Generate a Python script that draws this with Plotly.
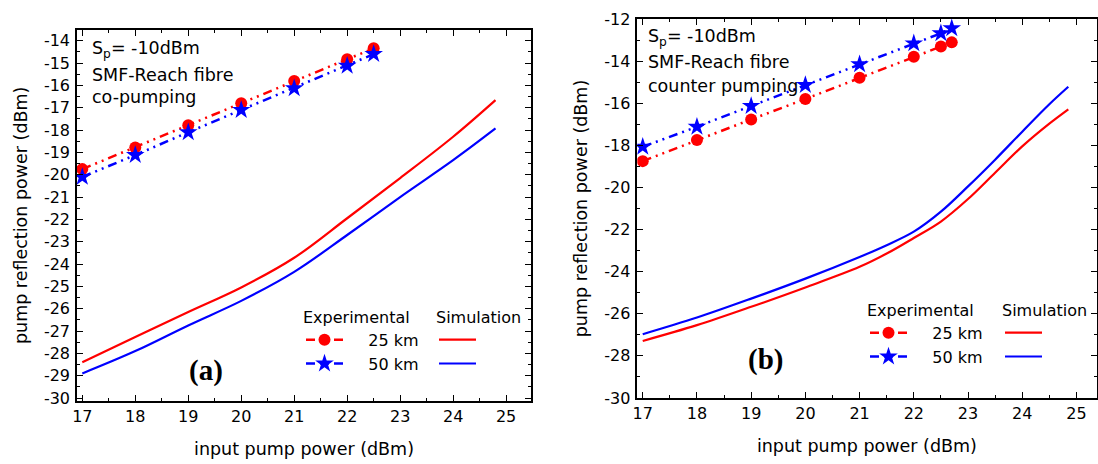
import plotly.graph_objects as go

# ---------------- data ----------------
# panel (a): co-pumping
x_exp_a = [17, 18, 19, 20, 21, 22, 22.5]
exp25_a = [-19.75, -18.78, -17.78, -16.8, -15.8, -14.83, -14.34]
exp50_a = [-20.1, -19.12, -18.1, -17.1, -16.13, -15.12, -14.6]

x_sim_a = [17, 18, 19, 20, 21, 22, 23, 24, 24.8]
sim25_a = [-28.4, -27.27, -26.15, -25.05, -23.72, -21.95, -20.15, -18.3, -16.66]
sim50_a = [-28.9, -27.9, -26.75, -25.65, -24.35, -22.7, -21.0, -19.35, -17.93]

# panel (b): counter pumping
x_exp_b = [17, 18, 19, 20, 21, 22, 22.5, 22.7]
exp25_b = [-18.75, -17.75, -16.77, -15.8, -14.79, -13.79, -13.31, -13.11]
exp50_b = [-18.07, -17.12, -16.13, -15.14, -14.15, -13.16, -12.68, -12.44]

x_sim_b = [17, 18, 19, 20, 21, 21.5, 22, 22.5, 23, 23.5, 24, 24.5, 24.85]
sim25_b = [-27.29, -26.54, -25.67, -24.75, -23.77, -23.14, -22.4, -21.62, -20.55, -19.3,
           -18.05, -16.97, -16.29]
sim50_b = [-26.97, -26.18, -25.28, -24.33, -23.3, -22.74, -22.1, -21.15, -19.95, -18.68,
           -17.35, -16.05, -15.22]

# tick labels
x_ticks = [17, 18, 19, 20, 21, 22, 23, 24, 25]
y_ticks_a = list(range(-30, -13))
y_ticks_b = list(range(-30, -11, 2))

labels_exp = ["25 km", "50 km"]
panel_labels = ["(a)", "(b)"]
notes_a = ["S<sub>p</sub>= -10dBm", "SMF-Reach fibre", "co-pumping"]
notes_b = ["S<sub>p</sub>= -10dBm", "SMF-Reach fibre", "counter pumping"]
x_title = "input pump power (dBm)"
y_title = "pump reflection power (dBm)"

RED = "#ff0000"
BLUE = "#0000ff"
FONT = "DejaVu Sans"
W, H = 1098, 464
DASH = "9px,5px,2px,5px,2px,5px"
PAD = "\u00a0" * 4


def px(x):
    return x / W


def py(y):
    return 1 - y / H


fig = go.Figure()


def add_panel(xa, ya, xe, e25, e50, xs, s25, s50, leg_e, leg_s):
    fig.add_trace(go.Scatter(x=xe, y=e25, xaxis=xa, yaxis=ya, mode="lines+markers",
                             name=PAD + labels_exp[0], legend=leg_e,
                             line=dict(color=RED, width=2.5, dash=DASH),
                             marker=dict(symbol="circle", size=12, color=RED)))
    fig.add_trace(go.Scatter(x=xe, y=e50, xaxis=xa, yaxis=ya, mode="lines+markers",
                             name=PAD + labels_exp[1], legend=leg_e,
                             line=dict(color=BLUE, width=2.5, dash=DASH),
                             marker=dict(symbol="star", size=14, color=BLUE)))
    fig.add_trace(go.Scatter(x=xs, y=s25, xaxis=xa, yaxis=ya, mode="lines",
                             name="\u00a0", legend=leg_s,
                             line=dict(color=RED, width=2.2, shape="spline", smoothing=1.0)))
    fig.add_trace(go.Scatter(x=xs, y=s50, xaxis=xa, yaxis=ya, mode="lines",
                             name="\u00a0", legend=leg_s,
                             line=dict(color=BLUE, width=2.2, shape="spline", smoothing=1.0)))


add_panel("x", "y", x_exp_a, exp25_a, exp50_a, x_sim_a, sim25_a, sim50_a, "legend", "legend2")
add_panel("x2", "y2", x_exp_b, exp25_b, exp50_b, x_sim_b, sim25_b, sim50_b, "legend3", "legend4")

axis_common = dict(showline=True, linecolor="black", linewidth=1.5, mirror="ticks",
                   ticks="inside", ticklen=6, tickwidth=1.3, tickcolor="black",
                   showgrid=False, zeroline=False, tickmode="array",
                   tickfont=dict(family=FONT, size=16, color="black"))
minor_common = dict(ticks="inside", ticklen=3, tickcolor="black", tickwidth=1.2)


def tick_text(vals):
    return [str(v) for v in vals]


fig.update_layout(
    width=W, height=H, margin=dict(l=0, r=0, t=0, b=0, autoexpand=False),
    paper_bgcolor="white", plot_bgcolor="white",
    font=dict(family=FONT, size=16, color="black"),
    xaxis=dict(domain=[px(77), px(531)], range=[16.9, 25.47],
               tickvals=x_ticks, ticktext=tick_text(x_ticks),
               minor=dict(dtick=0.5, tick0=17, **minor_common),
               title=dict(text=x_title, font=dict(size=17.5), standoff=18),
               anchor="y", **axis_common),
    yaxis=dict(domain=[py(400.7), py(30)], range=[-30.12, -13.52],
               tickvals=y_ticks_a, ticktext=tick_text(y_ticks_a),
               minor=dict(dtick=0.5, tick0=-30, **minor_common),
               title=dict(text=y_title, font=dict(size=17.5), standoff=12),
               ticklabelstandoff=2,
               anchor="x", **axis_common),
    xaxis2=dict(domain=[px(637.3), px(1096.5)], range=[16.9, 25.37],
                tickvals=x_ticks, ticktext=tick_text(x_ticks),
                minor=dict(dtick=0.5, tick0=17, **minor_common),
                title=dict(text=x_title, font=dict(size=17.5), standoff=18),
                anchor="y2", **axis_common),
    yaxis2=dict(domain=[py(398), py(19)], range=[-30, -12],
                tickvals=y_ticks_b, ticktext=tick_text(y_ticks_b),
                minor=dict(dtick=1, tick0=-30, **minor_common),
                title=dict(text=y_title, font=dict(size=17.5), standoff=12),
                ticklabelstandoff=2,
                anchor="x2", **axis_common),
    showlegend=True,
)

leg_common = dict(bgcolor="rgba(0,0,0,0)", borderwidth=0, itemwidth=37,
                  font=dict(family=FONT, size=16, color="black"),
                  xanchor="left", yanchor="top", tracegroupgap=0,
                  itemclick=False, itemdoubleclick=False)


def leg_title(t):
    return dict(text=t, side="top", font=dict(family=FONT, size=16, color="black"))


fig.update_layout(
    legend=dict(x=px(301), y=py(302), title=leg_title("Experimental"), **leg_common),
    legend2=dict(x=px(434), y=py(302), title=leg_title("Simulation"), **leg_common),
    legend3=dict(x=px(865), y=py(295), title=leg_title("Experimental"), **leg_common),
    legend4=dict(x=px(1000), y=py(295), title=leg_title("Simulation"), **leg_common),
)

# text notes
for notes, x0, ys in [(notes_a, 90, [50, 75, 97]), (notes_b, 646, [37, 62.5, 86])]:
    for t, yy in zip(notes, ys):
        fig.add_annotation(text=t, x=px(x0), y=py(yy), xref="paper", yref="paper",
                           xanchor="left", yanchor="middle", showarrow=False,
                           font=dict(family=FONT, size=17.5, color="black"))

for t, xc, yc in [(panel_labels[0], 206, 370), (panel_labels[1], 765, 359)]:
    fig.add_annotation(text="<b>" + t + "</b>", x=px(xc), y=py(yc), xref="paper", yref="paper",
                       xanchor="center", yanchor="middle", showarrow=False,
                       font=dict(family="Liberation Serif", size=29, color="black"))

fig.write_html("out.html", config={"displayModeBar": False},
               post_script="document.body.style.margin='0';document.body.style.overflow='hidden';")
